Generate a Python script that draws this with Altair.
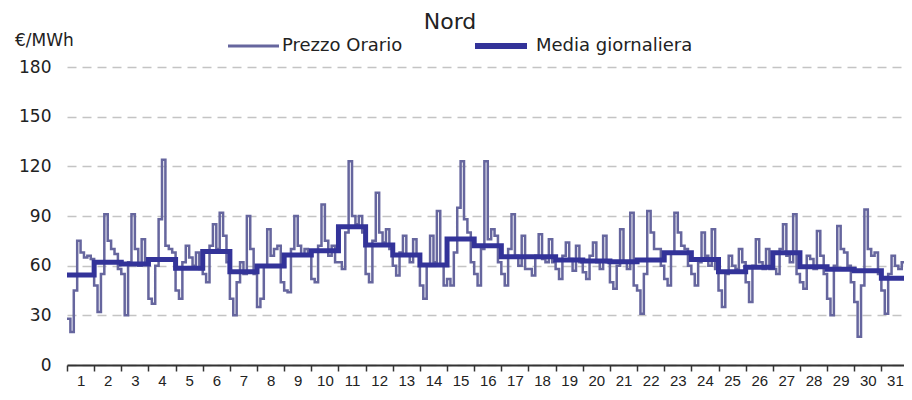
import altair as alt
import pandas as pd

# ---- data ----
days = list(range(1, 32))
block_hours = [0, 3, 6, 9, 12, 15, 18, 21]
hourly_blocks = [
    [28, 20, 45, 75, 68, 65, 66, 64],
    [48, 32, 55, 91, 75, 70, 67, 58],
    [55, 30, 62, 91, 70, 60, 76, 62],
    [40, 37, 60, 88, 124, 72, 70, 68],
    [45, 40, 62, 72, 65, 60, 68, 58],
    [55, 50, 72, 85, 70, 92, 78, 62],
    [40, 30, 50, 62, 55, 90, 70, 55],
    [35, 40, 60, 82, 66, 70, 72, 50],
    [45, 44, 70, 90, 72, 66, 70, 68],
    [52, 50, 72, 97, 75, 66, 72, 62],
    [62, 58, 80, 123, 90, 85, 90, 80],
    [55, 50, 75, 104, 80, 74, 82, 70],
    [60, 54, 68, 78, 66, 62, 76, 66],
    [48, 40, 60, 78, 62, 93, 60, 48],
    [52, 48, 68, 95, 123, 88, 80, 62],
    [55, 48, 70, 123, 76, 82, 78, 62],
    [55, 48, 70, 91, 66, 60, 78, 58],
    [58, 54, 66, 79, 64, 62, 76, 62],
    [58, 52, 66, 74, 64, 57, 72, 62],
    [56, 52, 66, 74, 62, 58, 78, 62],
    [50, 46, 60, 82, 62, 58, 92, 48],
    [45, 31, 55, 93, 80, 70, 70, 60],
    [52, 48, 68, 92, 80, 72, 70, 60],
    [55, 48, 62, 80, 66, 60, 82, 58],
    [45, 35, 55, 66, 60, 58, 70, 62],
    [50, 38, 60, 76, 62, 58, 70, 58],
    [58, 55, 70, 85, 66, 62, 91, 55],
    [50, 46, 66, 64, 58, 81, 66, 55],
    [40, 30, 60, 84, 70, 68, 60, 50],
    [38, 17, 48, 94, 70, 66, 68, 55],
    [45, 31, 55, 66, 60, 58, 62, 60],
]
daily_avg = [54.4, 62.0, 61.0, 63.8, 58.4, 68.5, 56.4, 59.8, 66.4, 69.0,
             83.5, 72.5, 66.4, 60.4, 76.1, 72.1, 65.4, 65.4, 63.4, 62.8,
             62.4, 63.4, 67.8, 63.8, 56.4, 59.0, 67.8, 59.4, 57.8, 57.0, 52.4]
y_ticks = [0, 30, 60, 90, 120, 150, 180]

# ---- tables ----
rows = []
for d, blocks in zip(days, hourly_blocks):
    for h, v in zip(block_hours, blocks):
        rows.append({"hour": (d - 1) * 24 + h, "price": v})
rows.append({"hour": len(days) * 24, "price": hourly_blocks[-1][-1]})
hourly = pd.DataFrame(rows)

avg_rows = [{"hour": (d - 1) * 24, "price": v} for d, v in zip(days, daily_avg)]
avg_rows.append({"hour": len(days) * 24, "price": daily_avg[-1]})
avg = pd.DataFrame(avg_rows)

X_MAX = 740
HOURLY_COLOR = "#66669e"
AVG_COLOR = "#333399"
FONT = "DejaVu Sans"

x_enc = alt.X(
    "hour:Q",
    scale=alt.Scale(domain=[0, X_MAX], nice=False, zero=False),
    axis=alt.Axis(
        values=list(range(0, X_MAX + 1, 12)),
        title=None,
        grid=False,
        domainColor="#333333",
        domainWidth=2,
        tickColor="#333333",
        tickWidth=1.5,
        tickSize=6,
        tickOpacity={"condition": {"test": "datum.value % 24 == 0", "value": 1}, "value": 0},
        labelExpr="datum.value % 24 == 12 ? '' + ((datum.value - 12) / 24 + 1) : ''",
        labelOverlap=False,
        labelFlush=False,
        labelFont="Liberation Sans Narrow, Liberation Sans",
        labelFontSize=15,
        labelColor="#222222",
        labelPadding=2,
    ),
)
y_enc = alt.Y(
    "price:Q",
    scale=alt.Scale(domain=[0, 180], nice=False),
    axis=alt.Axis(
        values=y_ticks,
        title=None,
        domain=False,
        ticks=False,
        grid=True,
        gridDash=[9, 6],
        gridColor="#c4c4c4",
        gridWidth=1.5,
        labelFont=FONT,
        labelFontSize=17,
        labelColor="#222222",
        labelPadding=16,
    ),
)

hourly_line = alt.Chart(hourly).mark_line(
    color=HOURLY_COLOR, strokeWidth=2.5, interpolate="step-after", clip=True
).encode(x=x_enc, y=y_enc)

avg_line = alt.Chart(avg).mark_line(
    color=AVG_COLOR, strokeWidth=5, interpolate="step-after", clip=True
).encode(x=x_enc, y=y_enc)

one = alt.Data(values=[{}])

title = alt.Chart(one).mark_text(
    text="Nord", font=FONT, fontSize=22, color="#222222", align="center", baseline="middle"
).encode(x=alt.value(383), y=alt.value(-45))

unit = alt.Chart(one).mark_text(
    text="€/MWh", font=FONT, fontSize=17, color="#222222", align="left", baseline="middle"
).encode(x=alt.value(-52), y=alt.value(-26))

leg_line1 = alt.Chart(one).mark_rule(color=HOURLY_COLOR, strokeWidth=3).encode(
    x=alt.value(161), x2=alt.value(212), y=alt.value(-21)
)
leg_text1 = alt.Chart(one).mark_text(
    text="Prezzo Orario", font=FONT, fontSize=18, color="#222222", align="left", baseline="middle"
).encode(x=alt.value(215), y=alt.value(-21))

leg_line2 = alt.Chart(one).mark_rule(color=AVG_COLOR, strokeWidth=6).encode(
    x=alt.value(408), x2=alt.value(460), y=alt.value(-21)
)
leg_text2 = alt.Chart(one).mark_text(
    text="Media giornaliera", font=FONT, fontSize=18, color="#222222", align="left", baseline="middle"
).encode(x=alt.value(469), y=alt.value(-21))

chart = alt.layer(
    hourly_line, avg_line, title, unit, leg_line1, leg_text1, leg_line2, leg_text2
).properties(
    width=837,
    height=298,
    autosize="none",
    padding={"left": 59, "top": 59, "right": 0, "bottom": 27},
    background="white",
).configure_view(stroke=None)

chart.save("out.html", embed_options={"renderer": "svg", "actions": False})
